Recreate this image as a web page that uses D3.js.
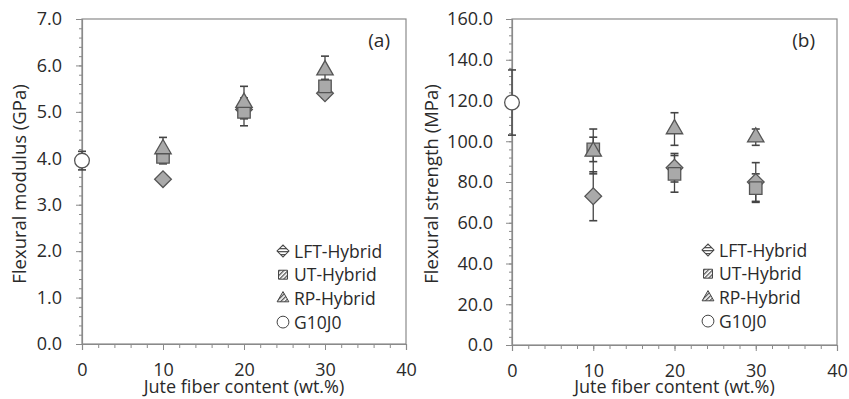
<!DOCTYPE html>
<html>
<head>
<meta charset="utf-8">
<script src="https://cdn.jsdelivr.net/npm/d3@7"></script>
<style>
  body { margin: 0; background: #fff; }
  svg { font-family: "Open Sans", sans-serif; }
</style>
</head>
<body>
<div id="container"></div>
<script>
// data
const fiber = [10, 20, 30];
const seriesNames = ['LFT-Hybrid', 'UT-Hybrid', 'RP-Hybrid', 'G10J0'];

// (a) flexural modulus, GPa
const modLFT = [3.55, 5.05, 5.4];
const modLFTErr = [0.08, 0.1, 0.1];
const modUT = [4.03, 5.0, 5.55];
const modUTErr = [0.15, 0.3, 0.15];
const modRP = [4.2, 5.2, 5.9];
const modRPErr = [0.25, 0.35, 0.3];
const modG = [3.95];
const modGErr = [0.2];

// (b) flexural strength, MPa
const strLFT = [73, 87, 80];
const strLFTErr = [12, 7, 9.5];
const strUT = [96, 84, 77];
const strUTErr = [6, 9, 7];
const strRP = [95, 106, 102];
const strRPErr = [11, 8, 4];
const strG = [119];
const strGErr = [16];

const xTicks = [0, 10, 20, 30, 40];
const modTicks = [0, 1, 2, 3, 4, 5, 6, 7];
const strTicks = [0, 20, 40, 60, 80, 100, 120, 140, 160];

const W = 849, H = 399;
const svg = d3.select('#container').append('svg')
  .attr('width', W).attr('height', H);

// hatch pattern for legend icons
const defs = svg.append('defs');
defs.append('pattern').attr('id', 'hatch')
  .attr('patternUnits', 'userSpaceOnUse')
  .attr('width', 3).attr('height', 3)
  .attr('patternTransform', 'rotate(45)')
  .append('rect').attr('width', 1.3).attr('height', 3).attr('fill', '#555');

const markerFill = '#a9a9a9';
const markerStroke = '#555';
const errColor = '#444';
const axisColor = '#8a8a8a';
const textColor = '#2a2a2a';

function shapeFor(i, size) {
  if (i === 0) return d3.symbol().type(d3.symbolSquare).size(size * 0.9)();
  if (i === 1) return d3.symbol().type(d3.symbolSquare).size(size)();
  if (i === 2) return d3.symbol().type(d3.symbolTriangle).size(size * 0.75)();
  return d3.symbol().type(d3.symbolCircle).size(size)();
}

function panel(opt) {
  const g = svg.append('g');
  const x = d3.scaleLinear().domain([0, 40]).range([opt.left, opt.right]);
  const y = d3.scaleLinear().domain([0, opt.yMax]).range([opt.bottom, opt.top]);

  // frame
  g.append('rect')
    .attr('x', opt.left).attr('y', opt.top)
    .attr('width', opt.right - opt.left).attr('height', opt.bottom - opt.top)
    .attr('fill', 'none').attr('stroke', axisColor).attr('stroke-width', 1.2);

  // minor ticks
  const yMinor = d3.range(0, opt.yMax + 1e-9, opt.yMinor);
  g.append('g').attr('transform', `translate(${opt.left},0)`)
    .call(d3.axisLeft(y).tickValues(yMinor).tickSize(3).tickFormat(''))
    .call(a => a.select('.domain').remove())
    .selectAll('line').attr('stroke', axisColor);
  g.append('g').attr('transform', `translate(0,${opt.bottom})`)
    .call(d3.axisBottom(x).tickValues(d3.range(0, 41, 2)).tickSize(4).tickFormat(''))
    .call(a => a.select('.domain').remove())
    .selectAll('line').attr('stroke', axisColor);

  // major ticks and labels
  const ya = g.append('g').attr('transform', `translate(${opt.left},0)`)
    .call(d3.axisLeft(y).tickValues(opt.yTicks).tickSize(6).tickPadding(opt.yPad)
      .tickFormat(d3.format('.1f')));
  ya.select('.domain').attr('stroke', axisColor).attr('stroke-width', 1.2);
  ya.selectAll('line').attr('stroke', axisColor);
  ya.selectAll('text').attr('font-size', 18).attr('fill', textColor)
    .attr('font-family', '"Open Sans", sans-serif');

  const xa = g.append('g').attr('transform', `translate(0,${opt.bottom})`)
    .call(d3.axisBottom(x).tickValues(xTicks).tickSize(6).tickPadding(13));
  xa.select('.domain').attr('stroke', axisColor).attr('stroke-width', 1.2);
  xa.selectAll('line').attr('stroke', axisColor);
  xa.selectAll('text').attr('font-size', 18).attr('fill', textColor)
    .attr('font-family', '"Open Sans", sans-serif');

  // axis titles
  g.append('text')
    .attr('x', (opt.left + opt.right) / 2).attr('y', 393)
    .attr('text-anchor', 'middle').attr('font-size', 18).attr('fill', textColor)
    .text('Jute fiber content (wt.%)');
  g.append('text')
    .attr('transform', `translate(${opt.titleX},184) rotate(-90)`)
    .attr('text-anchor', 'middle').attr('font-size', 18.5).attr('fill', textColor)
    .text(opt.yTitle);

  g.append('text')
    .attr('x', opt.tagX).attr('y', 47)
    .attr('text-anchor', 'end').attr('font-size', 19).attr('fill', textColor)
    .text(opt.tag);

  // error bars
  opt.series.forEach(s => {
    s.xs.forEach((xv, j) => {
      const cx = x(xv);
      const y0 = y(s.vals[j] - s.errs[j]), y1 = y(s.vals[j] + s.errs[j]);
      g.append('line').attr('x1', cx).attr('x2', cx).attr('y1', y0).attr('y2', y1)
        .attr('stroke', errColor).attr('stroke-width', 1.3);
      [y0, y1].forEach(yy => g.append('line')
        .attr('x1', cx - 4).attr('x2', cx + 4).attr('y1', yy).attr('y2', yy)
        .attr('stroke', errColor).attr('stroke-width', 1.6));
    });
  });

  // markers
  opt.series.forEach((s, i) => {
    g.selectAll(null).data(s.xs.map((xv, j) => [xv, s.vals[j]]))
      .join('path')
      .attr('d', shapeFor(i, i === 3 ? 170 : 155))
      .attr('transform', d => `translate(${x(d[0])},${y(d[1])})` + (i === 0 ? ' rotate(45)' : ''))
      .attr('fill', i === 3 ? '#fff' : markerFill)
      .attr('stroke', markerStroke).attr('stroke-width', 1.3);
  });

  // legend
  const leg = g.append('g');
  seriesNames.forEach((name, i) => {
    const ly = opt.legY + i * 23.7;
    leg.append('path')
      .attr('d', shapeFor(i, i === 3 ? 110 : 80))
      .attr('transform', `translate(${opt.legX},${ly})` + (i === 0 ? ' rotate(45)' : ''))
      .attr('fill', i === 3 ? '#fff' : 'url(#hatch)')
      .attr('stroke', '#444').attr('stroke-width', 1);
    leg.append('text')
      .attr('x', opt.legX + 11).attr('y', ly + 6.5)
      .attr('font-size', 17.5).attr('fill', textColor)
      .text(name);
  });
}

panel({
  left: 82, right: 406, top: 19, bottom: 344,
  yMax: 7, yTicks: modTicks, yMinor: 0.2, yPad: 14,
  yTitle: 'Flexural modulus (GPa)', titleX: 26, tag: '(a)', tagX: 390,
  legX: 283, legY: 251,
  series: [
    { xs: fiber, vals: modLFT, errs: modLFTErr },
    { xs: fiber, vals: modUT, errs: modUTErr },
    { xs: fiber, vals: modRP, errs: modRPErr },
    { xs: [0], vals: modG, errs: modGErr }
  ]
});

panel({
  left: 512, right: 837, top: 19, bottom: 345,
  yMax: 160, yTicks: strTicks, yMinor: 4, yPad: 13,
  yTitle: 'Flexural strength (MPa)', titleX: 438, tag: '(b)', tagX: 815,
  legX: 708, legY: 250,
  series: [
    { xs: fiber, vals: strLFT, errs: strLFTErr },
    { xs: fiber, vals: strUT, errs: strUTErr },
    { xs: fiber, vals: strRP, errs: strRPErr },
    { xs: [0], vals: strG, errs: strGErr }
  ]
});
</script>
</body>
</html>
